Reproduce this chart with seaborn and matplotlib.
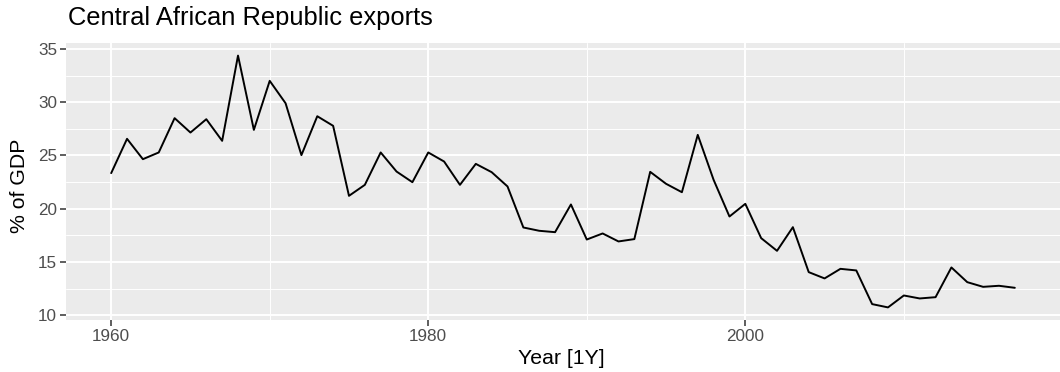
import matplotlib
matplotlib.use("Agg")
import matplotlib.pyplot as plt
import seaborn as sns
import pandas as pd
from matplotlib.ticker import MultipleLocator

years = list(range(1960, 2018))
exports = [23.34, 26.56, 24.65, 25.28, 28.50, 27.15, 28.40, 26.37, 34.37, 27.40,
           32.00, 29.90, 25.03, 28.68, 27.78, 21.21, 22.24, 25.28, 23.49, 22.49,
           25.28, 24.43, 22.24, 24.21, 23.43, 22.09, 18.24, 17.93, 17.80, 20.40,
           17.11, 17.68, 16.93, 17.15, 23.46, 22.34, 21.55, 26.93, 22.71, 19.27,
           20.46, 17.24, 16.05, 18.27, 14.05, 13.46, 14.36, 14.21, 11.05, 10.74,
           11.86, 11.58, 11.70, 14.49, 13.11, 12.67, 12.77, 12.58]
x_ticks = [1960, 1980, 2000]
y_ticks = [10, 15, 20, 25, 30, 35]

df = pd.DataFrame({"Year": years, "Exports": exports})

sns.set_theme(style="darkgrid")
plt.rcParams['font.family'] = ['Liberation Sans', 'DejaVu Sans']

W, H = 1060, 372
fig = plt.figure(figsize=(W / 100, H / 100), dpi=100)
fig.patch.set_facecolor("white")
ax = fig.add_axes([66 / W, 1 - 320 / H, (W - 66) / W, (320 - 43) / H])
ax.set_facecolor("#EBEBEB")

sns.lineplot(data=df, x="Year", y="Exports", ax=ax, color="black", linewidth=1.4)

xr = years[-1] - years[0]
ax.set_xlim(years[0] - 0.05 * xr, years[-1] + 0.05 * xr)
ymin, ymax = min(exports), max(exports)
yr = ymax - ymin
ax.set_ylim(ymin - 0.05 * yr, ymax + 0.05 * yr)

ax.set_xticks(x_ticks)
ax.set_yticks(y_ticks)
ax.xaxis.set_minor_locator(MultipleLocator(10))
ax.yaxis.set_minor_locator(MultipleLocator(2.5))
ax.grid(which="major", color="white", linewidth=1.4)
ax.grid(which="minor", color="white", linewidth=0.7)
for s in ax.spines.values():
    s.set_visible(False)
ax.tick_params(which="major", length=4, width=1.1, color="#333333",
               labelcolor="#4D4D4D", labelsize=12.3, pad=2.5, bottom=True, left=True)
ax.tick_params(which="minor", length=0)

ax.set_xlabel("")
ax.set_ylabel("")
fig.text((66 + 994 * 0 + 495) / W, 1 - 358 / H, "Year [1Y]", fontsize=15.3,
         ha="center", va="center", color="black")
fig.text(20 / W, 1 - 186 / H, "% of GDP", fontsize=15.3, rotation=90,
         ha="center", va="center", color="black")
fig.text(68 / W, 1 - 18 / H, "Central African Republic exports", fontsize=18.4,
         ha="left", va="center", color="black")

fig.savefig("out.png", dpi=100)
